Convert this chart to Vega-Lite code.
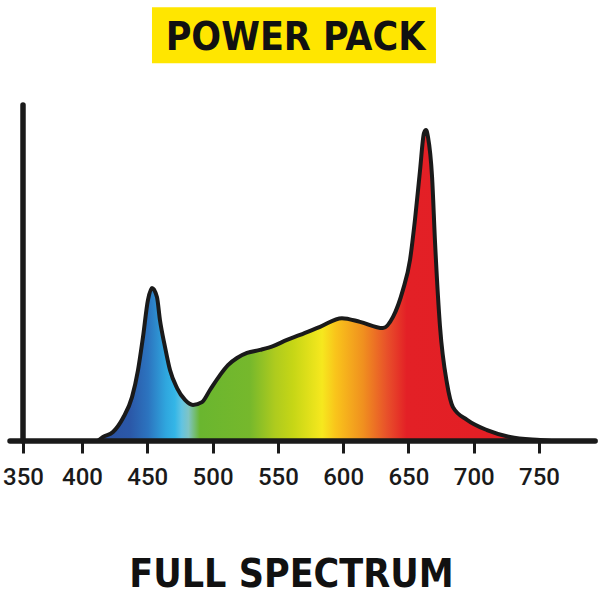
{
  "$schema": "https://vega.github.io/schema/vega-lite/v6.json",
  "width": 600,
  "height": 441,
  "autosize": "none",
  "padding": {"left": 0, "top": 0, "right": 0, "bottom": 159},
  "background": "#ffffff",
  "config": {
    "view": {"stroke": null},
    "axis": {"grid": false, "domain": false}
  },
  "layer": [
    {
      "data": {"values": [{}]},
      "mark": {"type": "rect", "color": "#ffe600"},
      "encoding": {
        "x": {"datum": 453.6, "type": "quantitative"},
        "x2": {"datum": 671.1},
        "y": {"datum": 121.5, "type": "quantitative", "axis": null},
        "y2": {"datum": 139.5}
      }
    },
    {
      "data": {"values": [{}]},
      "mark": {"type": "text", "text": "POWER PACK", "font": "DejaVu Sans Condensed, Roboto", "fontSize": 39, "fontWeight": "bold", "color": "#111111", "align": "center", "baseline": "middle"},
      "encoding": {
        "x": {"datum": 563.5, "type": "quantitative"},
        "y": {"datum": 129.6, "type": "quantitative", "axis": null}
      }
    },
    {
      "data": {
        "values": [
          {"nm": 412, "v": 0},
          {"nm": 416.1, "v": 1.3},
          {"nm": 423.7, "v": 2.9},
          {"nm": 431.4, "v": 7.4},
          {"nm": 438.3, "v": 14.1},
          {"nm": 442.9, "v": 22.8},
          {"nm": 446.7, "v": 33.4},
          {"nm": 450.5, "v": 45.3},
          {"nm": 453.6, "v": 49.2},
          {"nm": 457.4, "v": 46.3},
          {"nm": 459.7, "v": 38.9},
          {"nm": 463.6, "v": 30.2},
          {"nm": 467.4, "v": 22.8},
          {"nm": 472.8, "v": 17.0},
          {"nm": 478.9, "v": 13.2},
          {"nm": 485.0, "v": 11.6},
          {"nm": 491.9, "v": 12.5},
          {"nm": 498.0, "v": 16.4},
          {"nm": 505.7, "v": 21.2},
          {"nm": 511.8, "v": 24.4},
          {"nm": 518.7, "v": 26.7},
          {"nm": 526.4, "v": 28.3},
          {"nm": 536.3, "v": 29.3},
          {"nm": 546.3, "v": 30.5},
          {"nm": 557.0, "v": 32.5},
          {"nm": 567.0, "v": 34.1},
          {"nm": 582.3, "v": 36.7},
          {"nm": 599.1, "v": 39.5},
          {"nm": 612.9, "v": 38.3},
          {"nm": 630.5, "v": 36.3},
          {"nm": 638.2, "v": 39.9},
          {"nm": 645.8, "v": 48.6},
          {"nm": 651.2, "v": 58.2},
          {"nm": 655.0, "v": 71.1},
          {"nm": 658.9, "v": 87.1},
          {"nm": 661.9, "v": 99.0},
          {"nm": 663.5, "v": 100},
          {"nm": 665.0, "v": 97.7},
          {"nm": 668.1, "v": 84.9},
          {"nm": 670.4, "v": 63.7},
          {"nm": 674.2, "v": 36.7},
          {"nm": 679.5, "v": 18.6},
          {"nm": 684.1, "v": 10.9},
          {"nm": 694.9, "v": 6.8},
          {"nm": 710.2, "v": 3.5},
          {"nm": 727.8, "v": 1.3},
          {"nm": 750.8, "v": 0.3},
          {"nm": 760, "v": 0}
        ]
      },
      "mark": {
        "type": "area",
        "interpolate": "monotone",
        "stroke": "#1a1a1a",
        "strokeWidth": 4,
        "strokeJoin": "round",
        "fill": {
          "gradient": "linear",
          "x1": 0, "y1": 0, "x2": 1, "y2": 0,
          "stops": [
            {"offset": 0, "color": "#2a4f9e"},
            {"offset": 0.071, "color": "#2b58a8"},
            {"offset": 0.111, "color": "#2c74bf"},
            {"offset": 0.15, "color": "#2fa6de"},
            {"offset": 0.17, "color": "#34b6e7"},
            {"offset": 0.185, "color": "#62c3e2"},
            {"offset": 0.2, "color": "#7fc4c4"},
            {"offset": 0.225, "color": "#6ab62f"},
            {"offset": 0.335, "color": "#76b82c"},
            {"offset": 0.39, "color": "#aecb1e"},
            {"offset": 0.43, "color": "#c6d616"},
            {"offset": 0.494, "color": "#f6e81e"},
            {"offset": 0.524, "color": "#f9c41b"},
            {"offset": 0.584, "color": "#f0901f"},
            {"offset": 0.637, "color": "#e8502a"},
            {"offset": 0.68, "color": "#e32026"},
            {"offset": 1, "color": "#e31e24"}
          ]
        }
      },
      "encoding": {
        "x": {
          "field": "nm",
          "type": "quantitative",
          "scale": {"domain": [350, 400, 750], "range": [23, 82, 539], "nice": false, "zero": false},
          "axis": {
            "values": [350, 400, 450, 500, 550, 600, 650, 700, 750],
            "tickSize": 12,
            "tickWidth": 3,
            "tickColor": "#1a1a1a",
            "labelFont": "Roboto",
            "labelFontSize": 24,
            "labelFontWeight": 500,
            "labelColor": "#1a1a1a",
            "labelPadding": 12,
            "labelFlush": false,
            "labelOverlap": false,
            "title": "FULL SPECTRUM",
            "titleFont": "DejaVu Sans Condensed, Roboto",
            "titleFontSize": 39,
            "titleFontWeight": "bold",
            "titleColor": "#111111",
            "titlePadding": 66,
            "titleX": 291
          }
        },
        "y": {
          "field": "v",
          "type": "quantitative",
          "scale": {"domain": [0, 141.8], "nice": false},
          "axis": null
        }
      }
    },
    {
      "data": {"values": [{}]},
      "mark": {"type": "rule", "color": "#1a1a1a", "strokeWidth": 5.5, "strokeCap": "round"},
      "encoding": {
        "x": {"datum": 339, "type": "quantitative"},
        "x2": {"datum": 793},
        "y": {"datum": 0, "type": "quantitative", "axis": null}
      }
    },
    {
      "data": {"values": [{}]},
      "mark": {"type": "rule", "color": "#1a1a1a", "strokeWidth": 5.5, "strokeCap": "round"},
      "encoding": {
        "x": {"datum": 350, "type": "quantitative"},
        "y": {"datum": 0, "type": "quantitative", "axis": null},
        "y2": {"datum": 108}
      }
    }
  ]
}
